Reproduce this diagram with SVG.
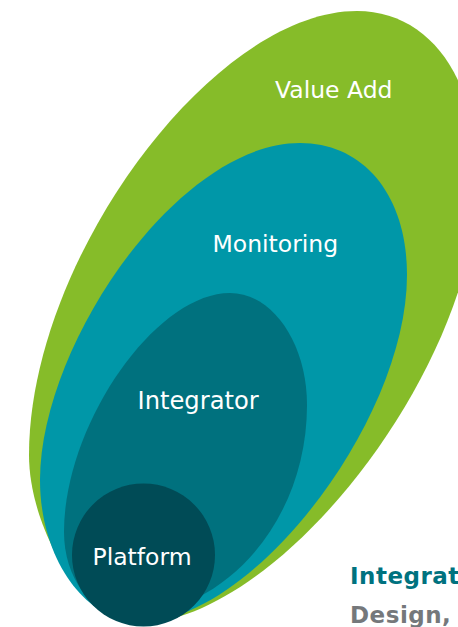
<svg xmlns="http://www.w3.org/2000/svg" width="458" height="627" viewBox="0 0 458 627">
<style>
.lbl{font-family:"DejaVu Sans","Verdana",sans-serif;font-size:23.5px;fill:#ffffff}
.hd{font-family:"DejaVu Sans","Verdana",sans-serif;font-size:23px;font-weight:bold;letter-spacing:0.5px}
</style>
<rect width="458" height="627" fill="#ffffff"/>
<g id="value-add">
<path d="M357,11 C429.6,11 478,78.6 478,180 C478,366.5 279,624 135,624 C87.3,624 29,531 29,455 C29,259.6 212.7,11 357,11 Z" fill="#86BC29"/>
<text class="lbl" x="275" y="98">Value Add</text>
</g>
<g id="monitoring">
<path d="M300,143 C364.2,143 407,195.8 407,275 C407,420.7 252.1,622 140,622 C85,622 40,558.1 40,480 C40,345.2 177.8,143 300,143 Z" fill="#0097A8"/>
<text class="lbl" x="212.5" y="252">Monitoring</text>
</g>
<g id="integrator">
<path d="M230,293 C272.4,293 307,343.4 307,405 C307,520.5 225.1,615 125,615 C91.5,615 64,577.7 64,532 C64,424.5 155.3,293 230,293 Z" fill="#00717E"/>
<text class="lbl" x="137.5" y="408.5" style="font-size:24.2px">Integrator</text>
</g>
<g id="platform">
<circle cx="143.5" cy="555" r="71.5" fill="#004B56"/>
<text class="lbl" x="92.5" y="565">Platform</text>
</g>
<g id="caption">
<text class="hd" x="350" y="583.5" fill="#00727F">Integrat</text>
<text class="hd" x="350" y="623" fill="#75787B">Design,</text>
</g>
</svg>
